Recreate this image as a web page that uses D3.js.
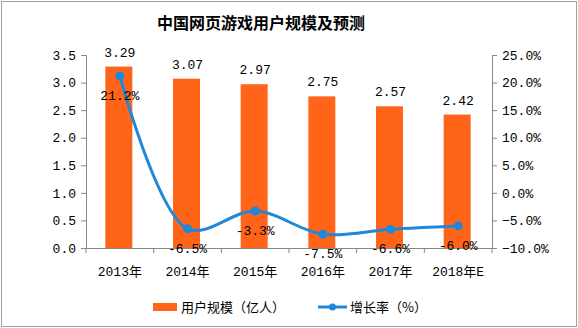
<!DOCTYPE html>
<html><head><meta charset="utf-8">
<script src="https://cdn.jsdelivr.net/npm/d3@7/dist/d3.min.js"></script>
<style>
body{margin:0;background:#fff;}
svg text{font-family:"Liberation Mono","DejaVu Sans Mono","Noto Sans CJK SC",monospace;}
</style></head>
<body><svg id="c" width="578" height="328"></svg>
<script>
const categories = ["2013年","2014年","2015年","2016年","2017年","2018年E"];
const users = [3.29,3.07,2.97,2.75,2.57,2.42];
const growth = [21.2,-6.5,-3.3,-7.5,-6.6,-6.0];
const leftTicks = [0,0.5,1.0,1.5,2.0,2.5,3.0,3.5];
const rightTicks = [-10,-5,0,5,10,15,20,25];
const title = "中国网页游戏用户规模及预测";
const legendLabels = ["用户规模（亿人）","增长率（%）"];

const svg = d3.select("#c");
const W=578,H=328;
svg.append("rect").attr("x",1.5).attr("y",1.5).attr("width",W-3).attr("height",H-3)
  .attr("fill","#fff").attr("stroke","#a0a0a0").attr("stroke-width",1);

const x0=86,x1=492,yTop=55,yBot=248;
const x = d3.scaleBand().domain(categories).range([x0,x1]);
const yL = d3.scaleLinear().domain([0,3.5]).range([yBot,yTop]);
const yR = d3.scaleLinear().domain([-10,25]).range([yBot,yTop]);
const axisColor="#868686";
const cjk = '"SimSun","Noto Sans CJK SC",sans-serif';

svg.append("text").attr("x",261).attr("y",29).attr("text-anchor","middle")
  .style("font-family",'"Noto Sans CJK SC",sans-serif').style("font-weight","bold")
  .style("font-size","16px").attr("fill","#000").text(title);

const gL = svg.append("g").attr("transform",`translate(${x0},0)`)
  .call(d3.axisLeft(yL).tickValues(leftTicks).tickFormat(d3.format(".1f")).tickSize(5).tickPadding(5));
const gR = svg.append("g").attr("transform",`translate(${x1},0)`)
  .call(d3.axisRight(yR).tickValues(rightTicks).tickFormat(d=>d3.format(".1f")(d)+"%").tickSize(5).tickPadding(5));
const gB = svg.append("g").attr("transform",`translate(0,${yBot})`)
  .call(d3.axisBottom(x).tickSize(0).tickPadding(19));
[gL,gR,gB].forEach(g=>{
  g.select(".domain").attr("stroke",axisColor);
  g.selectAll(".tick line").attr("stroke",axisColor);
  g.selectAll("text").attr("fill","#000").style("font-size","13px");
});
gB.selectAll("text").style("font-family",'"Liberation Mono","Noto Sans CJK SC",monospace');
svg.append("g").selectAll("line").data(categories.concat(["_end"])).join("line")
  .attr("x1",(d,i)=>x0+i*x.step()).attr("x2",(d,i)=>x0+i*x.step())
  .attr("y1",yBot).attr("y2",yBot+5).attr("stroke",axisColor);

const barColor="#ff6419";
const bw=27;
svg.append("g").selectAll("rect").data(users).join("rect")
  .attr("x",(d,i)=>x(categories[i])+x.bandwidth()/2-bw/2-1)
  .attr("width",bw).attr("y",d=>yL(d)).attr("height",d=>yBot-yL(d)).attr("fill",barColor);
svg.append("g").selectAll("text").data(users).join("text")
  .attr("x",(d,i)=>x(categories[i])+x.bandwidth()/2)
  .attr("y",d=>yL(d)-10).attr("text-anchor","middle").style("font-size","13px")
  .text(d=>d.toFixed(2));

const lineColor="#1f88d8";
const cx=(d,i)=>x(categories[i])+x.bandwidth()/2;
svg.append("path").datum(growth)
  .attr("d",d3.line().x(cx).y(d=>yR(d)).curve(d3.curveCatmullRom.alpha(0.5)))
  .attr("fill","none").attr("stroke",lineColor).attr("stroke-width",3);
svg.append("g").selectAll("circle").data(growth).join("circle")
  .attr("cx",cx).attr("cy",d=>yR(d)).attr("r",4.5).attr("fill",lineColor);
svg.append("g").selectAll("text").data(growth).join("text")
  .attr("x",cx).attr("y",d=>yR(d)+24).attr("text-anchor","middle").style("font-size","13px")
  .text(d=>d.toFixed(1)+"%");

const lg = svg.append("g");
lg.append("rect").attr("x",153).attr("y",303).attr("width",24).attr("height",8).attr("fill",barColor);
lg.append("text").attr("x",181).attr("y",312).style("font-size","13px")
  .style("font-family",cjk).text(legendLabels[0]);
lg.append("line").attr("x1",318).attr("x2",347).attr("y1",307).attr("y2",307)
  .attr("stroke",lineColor).attr("stroke-width",3);
lg.append("circle").attr("cx",332.5).attr("cy",307).attr("r",3.5).attr("fill",lineColor);
lg.append("text").attr("x",350).attr("y",312).style("font-size","13px")
  .style("font-family",cjk).text(legendLabels[1]);
</script></body></html>
